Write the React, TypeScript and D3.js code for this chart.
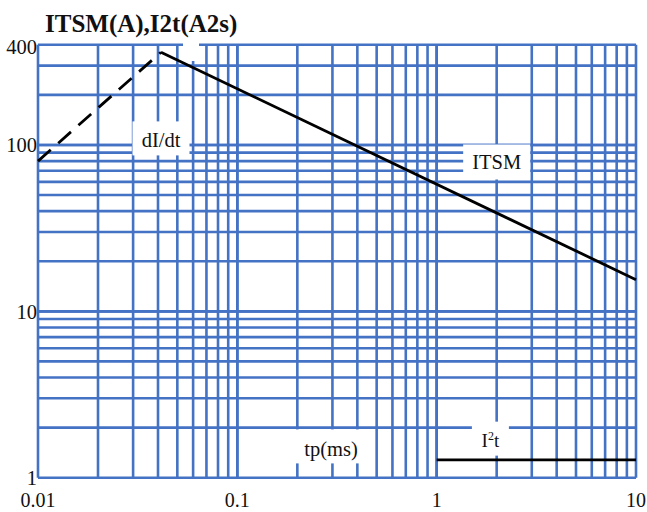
import React from "react";
import * as d3 from "d3";

// ---- data ----
const itsmT = [0.0414, 10];
const itsmA = [361, 15.5];
const didtT = [0.01, 0.0414];
const didtA = [80, 361];
const i2tT = [1, 10];
const i2tV = [1.28, 1.28];
const xTicks = [0.01, 0.1, 1, 10];
const xTickLabels = ["0.01", "0.1", "1", "10"];
const yTicks = [1, 10, 100, 400];
const yTickLabels = ["1", "10", "100", "400"];
const title = "ITSM(A),I2t(A2s)";
// annotation anchors (data coordinates)
const labelNames = ["dI/dt", "ITSM", "tp(ms)", "I2t"];
const labelT = [0.0414, 2.0, 0.295, 1.86];
const labelA = [108, 79, 1.5, 1.67];

const W = 647;
const H = 512;
const L = 38, R = 636, T = 44.8, B = 477.7;

export default function App() {
  const x = d3.scaleLog().domain([0.01, 10]).range([L, R]);
  const y = d3.scaleLog().domain([1, 400]).range([B, T]);

  const xGrid: number[] = [];
  for (let d = 0.01; d < 10; d *= 10) {
    for (let k = 1; k <= 10; k++) xGrid.push(+(d * k).toPrecision(3));
  }
  const yGrid: number[] = [];
  for (let d = 1; d < 1000; d *= 10) {
    for (let k = 1; k <= 10; k++) {
      const v = d * k;
      if (v <= 400) yGrid.push(v);
    }
  }

  const line = d3
    .line<[number, number]>()
    .x((p) => x(p[0]))
    .y((p) => y(p[1]));

  const blue = "#4472C4";
  const font = "'Liberation Serif', 'Times New Roman', serif";

  const boxes = [
    { w: 57, h: 34, dy: -1 },
    { w: 67, h: 35, dy: 0 },
    { w: 74, h: 34, dy: -2 },
    { w: 37, h: 34, dy: -2 },
  ];

  return (
    <svg
      width={W}
      height={H}
      style={{ position: "absolute", left: 0, top: 0, background: "#fff" }}
      fontFamily={font}
    >
      <rect x={0} y={0} width={W} height={H} fill="#fff" />
      {/* grid */}
      {xGrid.map((v, i) => (
        <line key={"xg" + i} x1={x(v)} x2={x(v)} y1={T} y2={B} stroke={blue} strokeWidth={2.6} />
      ))}
      {yGrid.map((v, i) => (
        <line key={"yg" + i} x1={L} x2={R} y1={y(v)} y2={y(v)} stroke={blue} strokeWidth={2.6} />
      ))}
      {/* empty white box at top */}
      <rect x={183} y={38} width={16} height={23} fill="#fff" />
      {/* label boxes */}
      {labelNames.map((n, i) => (
        <rect
          key={"b" + i}
          x={x(labelT[i]) - boxes[i].w / 2}
          y={y(labelA[i]) - boxes[i].h / 2 + boxes[i].dy}
          width={boxes[i].w}
          height={boxes[i].h}
          fill="#fff"
        />
      ))}
      {/* curves */}
      <path
        d={line(didtT.map((t, i) => [t, didtA[i]]) as [number, number][]) || ""}
        fill="none"
        stroke="#000"
        strokeWidth={2.8}
        strokeDasharray="17 10"
      />
      <path
        d={line(itsmT.map((t, i) => [t, itsmA[i]]) as [number, number][]) || ""}
        fill="none"
        stroke="#000"
        strokeWidth={2.8}
      />
      <path
        d={line(i2tT.map((t, i) => [t, i2tV[i]]) as [number, number][]) || ""}
        fill="none"
        stroke="#000"
        strokeWidth={2.8}
      />
      {/* labels */}
      {labelNames.map((n, i) => (
        <text
          key={"l" + i}
          x={x(labelT[i])}
          y={y(labelA[i])}
          dy="0.35em"
          textAnchor="middle"
          fontSize={n === "I2t" ? 19 : 20.5}
          fill="#111"
        >
          {n === "I2t" ? (
            <>
              I<tspan fontSize={12} dy="-7">2</tspan>
              <tspan dy="7">t</tspan>
            </>
          ) : (
            n
          )}
        </text>
      ))}
      {/* tick labels */}
      {xTicks.map((v, i) => (
        <text key={"xt" + i} x={x(v)} y={507} textAnchor="middle" fontSize={20} fill="#111">
          {xTickLabels[i]}
        </text>
      ))}
      {yTicks.map((v, i) => (
        <text
          key={"yt" + i}
          x={37}
          y={Math.min(Math.max(y(v), 47), 479.5)}
          dy="0.35em"
          textAnchor="end"
          fontSize={20.5}
          fill="#111"
        >
          {yTickLabels[i]}
        </text>
      ))}
      <text x={45} y={31.5} fontSize={25} fontWeight="bold" fill="#111">
        {title}
      </text>
    </svg>
  );
}
